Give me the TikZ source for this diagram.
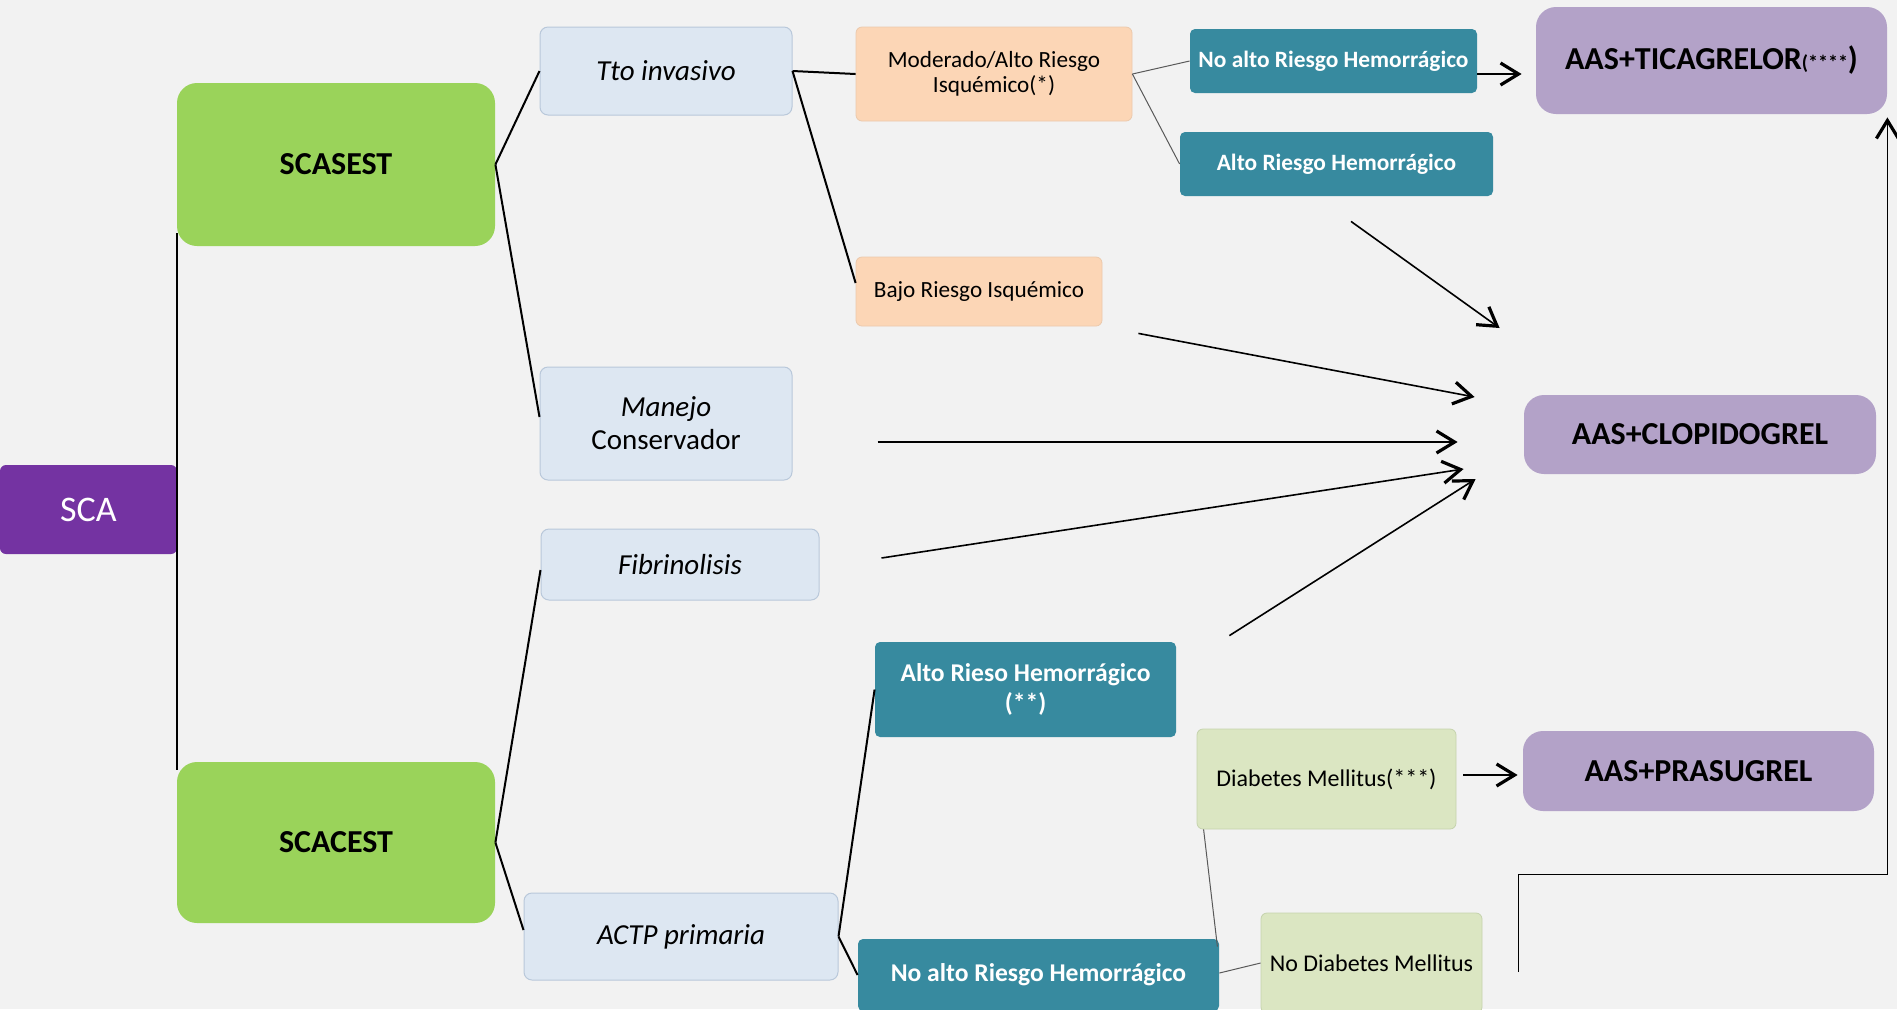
\documentclass[tikz,border=0pt]{standalone}
\usepackage{fontspec}
\setmainfont{Carlito}
\usepackage{xcolor}
\usetikzlibrary{arrows.meta,positioning}

\definecolor{bgfill}{HTML}{F2F2F2}
\definecolor{scapurple}{HTML}{7433A2}
\definecolor{stagegreen}{HTML}{9AD35A}
\definecolor{mgmtblue}{HTML}{DDE7F2}
\definecolor{mgmtline}{HTML}{B9C8DA}
\definecolor{riskpeach}{HTML}{FCD6B6}
\definecolor{riskline}{HTML}{EBC9AC}
\definecolor{bleedteal}{HTML}{378A9F}
\definecolor{diabgreen}{HTML}{DBE6C2}
\definecolor{diabline}{HTML}{C5D3AD}
\definecolor{druglav}{HTML}{B3A2C8}

\begin{document}
\begin{tikzpicture}[
    x=0.5pt, y=-0.5pt,
    base/.style     = {rectangle, inner sep=1pt, align=center},
    root/.style     = {base, fill=scapurple, rounded corners=3pt, text=white,
                       minimum width=88.5pt, minimum height=44.5pt,
                       font=\fontsize{18}{21}\selectfont},
    stage/.style    = {base, fill=stagegreen, rounded corners=10pt,
                       minimum width=159pt,
                       font=\fontsize{16}{19}\selectfont\bfseries},
    mgmt/.style     = {base, fill=mgmtblue, draw=mgmtline, line width=0.5pt,
                       rounded corners=4pt,
                       font=\fontsize{14.5}{16.5}\selectfont},
    risk/.style     = {base, fill=riskpeach, draw=riskline, line width=0.4pt,
                       rounded corners=3pt,
                       font=\fontsize{11.6}{13.5}\selectfont},
    bleed/.style    = {base, fill=bleedteal, text=white, rounded corners=2.5pt,
                       font=\fontsize{11.7}{14}\selectfont\bfseries},
    diab/.style     = {base, fill=diabgreen, draw=diabline, line width=0.4pt,
                       rounded corners=3pt,
                       font=\fontsize{12}{14}\selectfont},
    drug/.style     = {base, fill=druglav, rounded corners=10pt,
                       font=\fontsize{16}{19}\selectfont\bfseries},
    link/.style     = {draw=black, line width=1pt},
    thinlink/.style = {draw=black!65, line width=0.5pt},
    arr/.style      = {draw=black, line width=0.8pt,
                       -{Straight Barb[length=9pt, width=11pt, line width=1.6pt]}}
]

% canvas
\useasboundingbox (0,0) rectangle (1897,1009);
\fill[bgfill] (0,0) rectangle (1897,1009);

% root and syndromes
\node[root] (sca) at (88.5,509.5) {SCA};
\node[stage, minimum height=81.5pt] (scasest) at (336,164.5) {SCASEST};
\node[stage, minimum height=80.5pt] (scacest) at (336,842.5) {SCACEST};

% management
\node[mgmt, minimum width=126pt, minimum height=44pt]   (tto)    at (666,71)    {\textit{Tto invasivo}};
\node[mgmt, minimum width=126pt, minimum height=56.5pt] (manejo) at (666,423.5) {\textit{Manejo}\\Conservador};
\node[mgmt, minimum width=139pt, minimum height=35.5pt] (fibri)  at (680,564.5) {\textit{Fibrinolisis}};
\node[mgmt, minimum width=157pt, minimum height=43.5pt] (actp)   at (681,936.5) {\textit{ACTP primaria}};

% ischaemic risk
\node[risk, minimum width=138pt, minimum height=47pt]   (modisq)  at (994,74)    {\raisebox{-1pt}{Moderado/Alto Riesgo}\\Isquémico(*)};
\node[risk, minimum width=123pt, minimum height=34.5pt] (bajoisq) at (979,291.5) {Bajo Riesgo Isquémico};

% bleeding risk
\node[bleed, minimum width=143.5pt, minimum height=32pt] (noaltoA) at (1333.5,61) {No alto Riesgo Hemorrágico};
\node[bleed, minimum width=156.5pt, minimum height=32pt] (altoA)   at (1336.5,164) {Alto Riesgo Hemorrágico};
\node[bleed, font=\fontsize{12.8}{15}\selectfont\bfseries,
      minimum width=150.5pt, minimum height=47.5pt]      (altoB)   at (1025.5,689.5) {Alto Rieso Hemorrágico\\(**)};
\node[bleed, font=\fontsize{12.8}{15}\selectfont\bfseries,
      minimum width=180.5pt, minimum height=36pt]        (noaltoB) at (1038.5,975) {No alto Riesgo Hemorrágico};

% diabetes
\node[diab, minimum width=129.5pt, minimum height=50pt] (dm)   at (1326.5,779) {Diabetes Mellitus(***)};
\node[diab, minimum width=110.5pt, minimum height=50pt] (nodm) at (1371.5,963) {No Diabetes Mellitus};

% treatments
\node[drug, minimum width=175.5pt, minimum height=53.5pt] (tica)  at (1711.5,60.5) {\raisebox{-1.75pt}{AAS+TICAGRELOR{\fontsize{10}{12}\selectfont(****}{)}}};
\node[drug, minimum width=176pt,   minimum height=39.5pt] (clopi) at (1700,434.5)  {\raisebox{-1pt}{AAS+CLOPIDOGREL}};
\node[drug, minimum width=175.5pt, minimum height=40pt]   (prasu) at (1698.5,771)  {AAS+PRASUGREL};

% arrow ends near clopidogrel
\coordinate (c1) at ([shift={(-12pt,53.25pt)}]clopi.west);
\coordinate (c2) at ([shift={(-24.5pt,18.75pt)}]clopi.west);
\coordinate (c3) at ([shift={(-33pt,-3.75pt)}]clopi.west);
\coordinate (c4) at ([shift={(-30pt,-17.25pt)}]clopi.west);
\coordinate (c5) at ([shift={(-24pt,-22.25pt)}]clopi.west);

% tree lines
\draw[link] ([yshift=6.5pt]scasest.south west) -- ([yshift=-4pt]scacest.north west);
\draw[link] (scasest.east) -- (tto.west);
\draw[link] (scasest.east) -- ([yshift=3.25pt]manejo.west);
\draw[link] (scacest.east) -- ([yshift=-2.75pt]fibri.west);
\draw[link] (scacest.east) -- ([yshift=3.25pt]actp.west);
\draw[link] (tto.east)  -- (modisq.west);
\draw[link] (tto.east)  -- ([yshift=4.25pt]bajoisq.west);
\draw[link] (actp.east) -- (altoB.west);
\draw[link] (actp.east) -- (noaltoB.west);

\draw[thinlink] (modisq.east) -- (noaltoA.west);
\draw[thinlink] (modisq.east) -- (altoA.west);
\draw[thinlink] ([shift={(-1pt,-4pt)}]noaltoB.north east) -- ([xshift=3.5pt]dm.south west);
\draw[thinlink] ([yshift=1pt]noaltoB.east) -- (nodm.west);

% arrows
\draw[arr] ([yshift=-6.5pt]noaltoA.east) -- ([shift={(-7pt,-6.75pt)}]tica.west);
\draw[arr] ([shift={(7.25pt,-12.5pt)}]altoA.south) -- (c1);
\draw[arr] ([shift={(18pt,-3.5pt)}]bajoisq.south east) -- (c2);
\draw[arr] ([shift={(42.5pt,-9.25pt)}]manejo.east) -- (c3);
\draw[arr] ([shift={(31pt,3.25pt)}]fibri.east) -- (c4);
\draw[arr] ([shift={(26.5pt,3pt)}]altoB.north east) -- (c5);
\draw[arr] ([shift={(3.5pt,2pt)}]dm.east) -- ([shift={(-2.5pt,-2pt)}]prasu.west);
\draw[arr] ([shift={(18pt,-4.5pt)}]nodm.east) |- ([yshift=-380pt]tica.south east)
           -- ([yshift=-1.5pt]tica.south east);

\end{tikzpicture}
\end{document}
